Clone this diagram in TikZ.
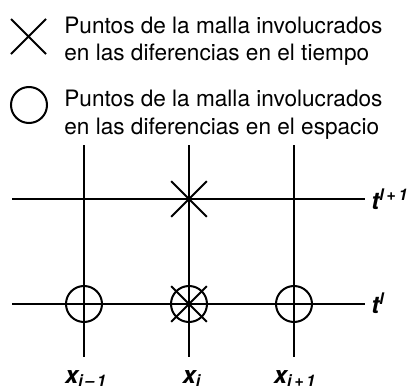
\documentclass[tikz,border=0pt]{standalone}
\usepackage{fontspec}
\setmainfont{TeX Gyre Heros}
\usetikzlibrary{positioning,shapes.misc}
\tikzset{
  gridline/.style={line width=1pt},
  crossmark/.style={draw, cross out, line width=1pt, minimum size=16.8pt, inner sep=0pt},
  circmark/.style={draw, circle, line width=1pt, minimum size=18pt, inner sep=0pt},
  legtext/.style={font=\fontsize{11.3}{13.8}\selectfont, align=left, inner sep=0pt, anchor=north west},
  axlabel/.style={font=\fontsize{12}{12}\selectfont\bfseries\itshape, inner sep=0pt}
}

\begin{document}
\begin{tikzpicture}[x=0.5pt, y=-0.5pt]
  \useasboundingbox (0,0) rectangle (413,391);
  % legend
  \node[crossmark, minimum size=16.5pt] (crossleg) at (28.5,36.5) {};
  \node[circmark] (circleg) at (29,105) {};
  \node[legtext] (timetxt) at (64,16.5) {Puntos de la malla involucrados\\en las diferencias en el tiempo};
  \node[legtext] (spacetxt) at (64,90) {Puntos de la malla involucrados\\en las diferencias en el espacio};
  % grid
  \coordinate (v1top) at (84,145);  \coordinate (v1bot) at (84,357);
  \coordinate (v2top) at (189,145); \coordinate (v2bot) at (189,357);
  \coordinate (v3top) at (294,145); \coordinate (v3bot) at (294,357);
  \coordinate (h1w) at (12,199); \coordinate (h1e) at (365,199);
  \coordinate (h2w) at (12,304); \coordinate (h2e) at (365,304);
  \draw[gridline] (v1top) -- (v1bot);
  \draw[gridline] (v2top) -- (v2bot);
  \draw[gridline] (v3top) -- (v3bot);
  \draw[gridline] (h1w) -- (h1e);
  \draw[gridline] (h2w) -- (h2e);
  % marks
  \node[crossmark] (tnext) at (189,199) {};
  \node[circmark] (pleft) at (84,304) {};
  \node[circmark] (pmid) at (189,304) {};
  \node[crossmark] (pmidx) at (189,304) {};
  \node[circmark] (pright) at (294,304) {};
  % labels
  \node[axlabel, anchor=base west] (tl1) at (371,209) {t\textsuperscript{l\,+\,1}};
  \node[axlabel, anchor=base west] (tl) at (371,313) {t\textsuperscript{l}};
  \node[axlabel, anchor=base] (xim) at (86,383) {x\textsubscript{i\,–\,1}};
  \node[axlabel, anchor=base] (xi) at (192,383) {x\textsubscript{i}};
  \node[axlabel, anchor=base] (xip) at (295,383) {x\textsubscript{i\,+\,1}};
\end{tikzpicture}
\end{document}
